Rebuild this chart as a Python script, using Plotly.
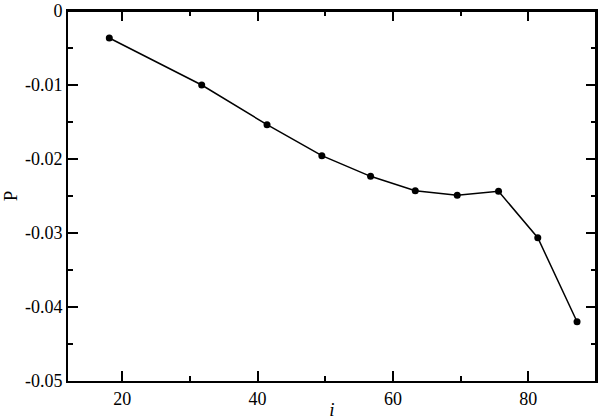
import plotly.graph_objects as go

inclination = [18.1, 31.75, 41.4, 49.5, 56.7, 63.3, 69.5, 75.6, 81.4, 87.2]
p_values = [-0.00365, -0.0100, -0.01536, -0.01955, -0.02234, -0.02428, -0.02491, -0.02436, -0.03064, -0.04199]

x_ticks = [20, 40, 60, 80]
x_tick_labels = ["20", "40", "60", "80"]
y_ticks = [0, -0.01, -0.02, -0.03, -0.04, -0.05]
y_tick_labels = ["0", "-0.01", "-0.02", "-0.03", "-0.04", "-0.05"]

font = "Liberation Serif, Times New Roman, Times, serif"
x_range = [12, 90]
y_range = [-0.05, 0]

fig = go.Figure()
fig.add_trace(go.Scatter(
    x=inclination, y=p_values, mode="lines+markers",
    line=dict(color="black", width=1.5),
    marker=dict(color="black", size=7),
    showlegend=False,
))

axis_common = dict(
    showgrid=False, zeroline=False, showline=True, linecolor="black", linewidth=2,
    mirror="allticks", ticks="inside", ticklen=10, tickwidth=1.5, tickcolor="black",
    tickfont=dict(family=font, size=18, color="black"), automargin=False,
)
minor_x = dict(ticks="inside", ticklen=5, tickwidth=1.5, tickcolor="black", dtick=10, tick0=0)
minor_y = dict(ticks="inside", ticklen=5, tickwidth=1.5, tickcolor="black", dtick=0.005, tick0=0)

fig.update_layout(
    xaxis=dict(range=x_range, tickvals=x_ticks, ticktext=x_tick_labels, minor=minor_x,
               title=dict(text="<i>i</i>", font=dict(family=font, size=19, color="black")),
               **axis_common),
    yaxis=dict(range=y_range, tickvals=y_ticks, ticktext=y_tick_labels, minor=minor_y,
               title=dict(text="P", font=dict(family=font, size=19, color="black")),
               **axis_common),
    width=600, height=420,
    margin=dict(l=68, r=4, t=11, b=39),
    plot_bgcolor="white", paper_bgcolor="white",
    shapes=[dict(type="line", xref="paper", yref="paper", x0=0, x1=1, y0=1, y1=1,
                 line=dict(color="black", width=2), layer="above"),
            dict(type="line", xref="paper", yref="paper", x0=1, x1=1, y0=0, y1=1,
                 line=dict(color="black", width=2), layer="above")],
)

html = fig.to_html(config={"displayModeBar": False}, full_html=True)
html = html.replace("<head>", "<head><style>html,body{margin:0;padding:0;overflow:hidden;}</style>", 1)
with open("out.html", "w", encoding="utf-8") as f:
    f.write(html)
